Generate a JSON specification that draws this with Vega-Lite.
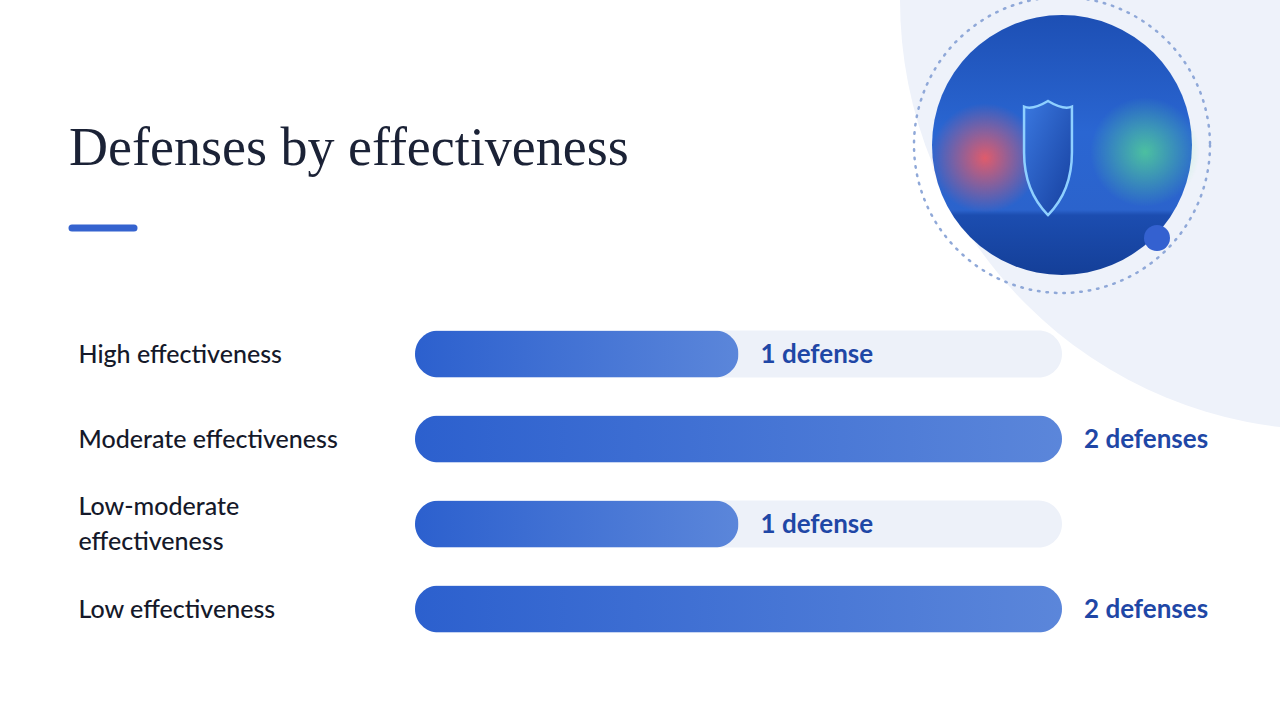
{
  "$schema": "https://vega.github.io/schema/vega-lite/v6.json",
  "description": "Defenses by effectiveness - rounded progress bars with decorative backdrop.",
  "width": 1280,
  "height": 720,
  "autosize": {"type": "none"},
  "padding": 0,
  "background": "#ffffff",
  "config": {"view": {"stroke": null}},
  "data": {
    "values": [
      {"level": "High effectiveness", "defenses": 1, "note": "1 defense"},
      {"level": "Moderate effectiveness", "defenses": 2, "note": "2 defenses"},
      {"level": "Low-moderate effectiveness", "defenses": 1, "note": "1 defense"},
      {"level": "Low effectiveness", "defenses": 2, "note": "2 defenses"}
    ]
  },
  "layer": [
    {
      "data": {"values": [{}]},
      "encoding": {
        "x": {"type": "quantitative", "scale": {"domain": [0, 1280], "range": [0, 1280], "nice": false, "zero": false}, "axis": null},
        "y": {"type": "quantitative", "scale": {"domain": [0, 720], "range": [0, 720], "nice": false, "zero": false}, "axis": null}
      },
      "layer": [
        {
          "mark": {"type": "point", "shape": "circle", "filled": true, "size": 739600, "fill": "#eef2fa", "opacity": 1},
          "encoding": {"x": {"datum": 1330}, "y": {"datum": 0}}
        },
        {
          "mark": {"type": "point", "shape": "circle", "filled": false, "size": 87616, "stroke": "#8fa8d8", "strokeWidth": 2.5, "strokeDash": [1.5, 7], "strokeCap": "round", "opacity": 1},
          "encoding": {"x": {"datum": 1062}, "y": {"datum": 145}}
        },
        {
          "mark": {
            "type": "point", "shape": "circle", "filled": true, "size": 67600, "opacity": 1,
            "fill": {"gradient": "linear", "x1": 0, "y1": 0, "x2": 0, "y2": 1,
              "stops": [{"offset": 0, "color": "#1d4fb4"}, {"offset": 0.45, "color": "#2a66d2"}, {"offset": 0.75, "color": "#2b63cc"}, {"offset": 0.77, "color": "#1c4db0"}, {"offset": 1, "color": "#143f98"}]}
          },
          "encoding": {"x": {"datum": 1062}, "y": {"datum": 145}}
        },
        {
          "mark": {
            "type": "point", "shape": "circle", "filled": true, "size": 12000, "opacity": 1,
            "fill": {"gradient": "radial", "x1": 0.5, "y1": 0.5, "r1": 0, "x2": 0.5, "y2": 0.5, "r2": 0.5,
              "stops": [{"offset": 0, "color": "rgba(255,90,90,0.85)"}, {"offset": 1, "color": "rgba(255,90,90,0)"}]}
          },
          "encoding": {"x": {"datum": 985}, "y": {"datum": 158}}
        },
        {
          "mark": {
            "type": "point", "shape": "circle", "filled": true, "size": 12000, "opacity": 1,
            "fill": {"gradient": "radial", "x1": 0.5, "y1": 0.5, "r1": 0, "x2": 0.5, "y2": 0.5, "r2": 0.5,
              "stops": [{"offset": 0, "color": "rgba(90,230,140,0.7)"}, {"offset": 1, "color": "rgba(90,230,140,0)"}]}
          },
          "encoding": {"x": {"datum": 1145}, "y": {"datum": 152}}
        },
        {
          "mark": {
            "type": "point", "filled": true, "size": 13000, "opacity": 1, "stroke": "#8fd0ff", "strokeWidth": 2.5,
            "shape": "M0,-1 C0.2,-0.88 0.32,-0.86 0.42,-0.9 L0.42,-0.1 C0.42,0.45 0.2,0.8 0,1 C-0.2,0.8 -0.42,0.45 -0.42,-0.1 L-0.42,-0.9 C-0.32,-0.86 -0.2,-0.88 0,-1 Z",
            "fill": {"gradient": "linear", "x1": 0, "y1": 0, "x2": 1, "y2": 1,
              "stops": [{"offset": 0, "color": "#3a78e0"}, {"offset": 1, "color": "#163f9e"}]}
          },
          "encoding": {"x": {"datum": 1048}, "y": {"datum": 158}}
        },
        {
          "mark": {"type": "point", "shape": "circle", "filled": true, "size": 676, "fill": "#3461d0", "opacity": 1},
          "encoding": {"x": {"datum": 1157}, "y": {"datum": 238}}
        },
        {
          "mark": {"type": "rule", "color": "#3563cf", "strokeWidth": 7, "strokeCap": "round"},
          "encoding": {"x": {"datum": 72}, "x2": {"datum": 134}, "y": {"datum": 228}}
        },
        {
          "mark": {"type": "text", "text": "Defenses by effectiveness", "align": "left", "baseline": "alphabetic", "font": "Liberation Serif", "fontSize": 54, "color": "#1b2236"},
          "encoding": {"x": {"datum": 69}, "y": {"datum": 165}}
        }
      ]
    },
    {
      "encoding": {
        "y": {
          "field": "level", "type": "nominal", "sort": null,
          "scale": {"range": [311.5, 651.5], "paddingInner": 0.447, "paddingOuter": 0.2235},
          "axis": {
            "title": null, "orient": "left", "offset": -78, "domain": false, "ticks": false, "grid": false,
            "labelAlign": "left", "labelPadding": 0, "labelBaseline": "middle", "labelLimit": 500,
            "labelFont": "Lato", "labelFontSize": 25, "labelFontWeight": 500, "labelColor": "#15192a", "labelLineHeight": 35,
            "labelOffset": {"condition": {"test": "datum.value == 'Low-moderate effectiveness'", "value": -17}, "value": 1},
            "labelExpr": "datum.label == 'Low-moderate effectiveness' ? ['Low-moderate', 'effectiveness'] : datum.label"
          }
        }
      },
      "layer": [
        {
          "mark": {"type": "bar", "color": "#edf1f9", "cornerRadius": 23.5},
          "encoding": {"x": {"datum": 2, "type": "quantitative", "scale": {"domain": [0, 2], "range": [415, 1062], "nice": false}, "axis": null}}
        },
        {
          "mark": {
            "type": "bar", "cornerRadius": 23.5,
            "color": {"gradient": "linear", "x1": 0, "y1": 0, "x2": 1, "y2": 0,
              "stops": [{"offset": 0, "color": "#2c60ce"}, {"offset": 1, "color": "#5b86da"}]}
          },
          "encoding": {"x": {"field": "defenses", "type": "quantitative", "axis": null}}
        },
        {
          "mark": {"type": "text", "align": "left", "baseline": "middle", "dx": 22, "dy": 1, "font": "Lato", "fontSize": 26, "fontWeight": "bold", "color": "#1f47a6"},
          "encoding": {
            "x": {"field": "defenses", "type": "quantitative", "axis": null},
            "text": {"field": "note", "type": "nominal"}
          }
        }
      ]
    }
  ],
  "resolve": {"scale": {"x": "independent", "y": "independent"}}
}
